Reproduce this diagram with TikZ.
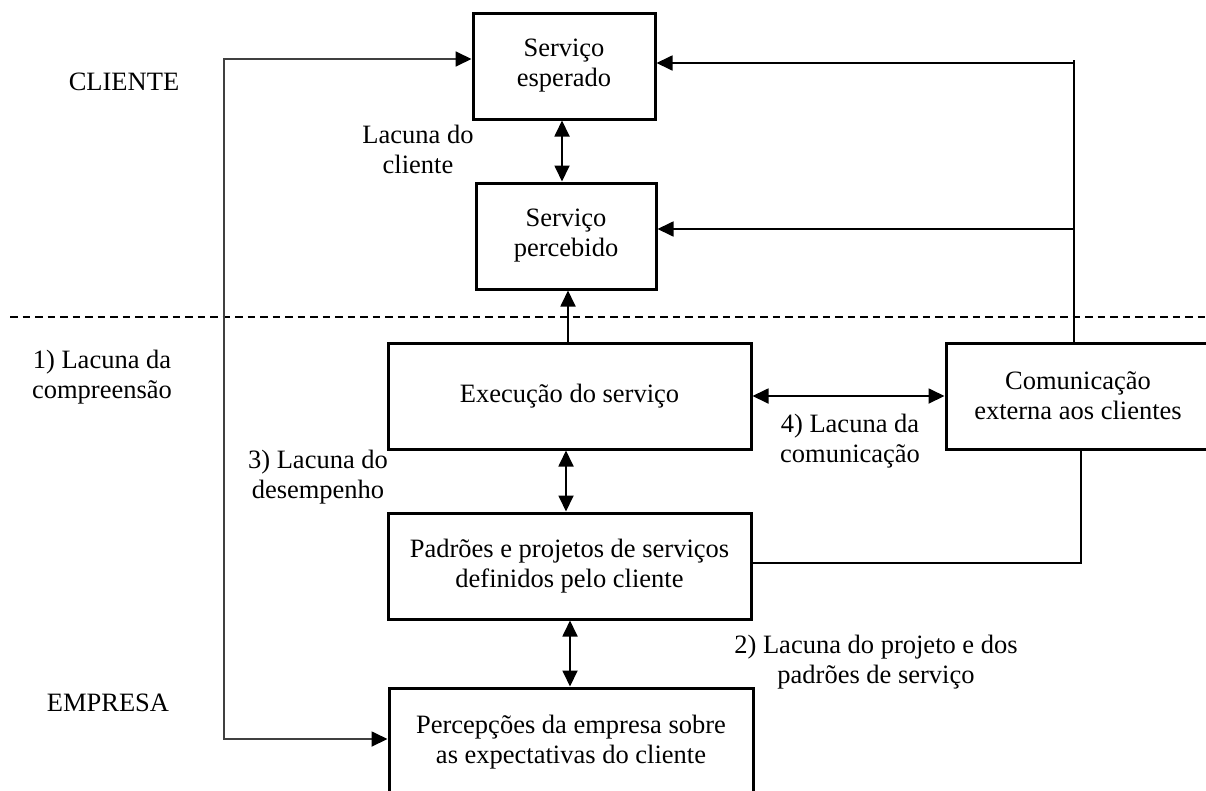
\documentclass[tikz,border=0pt]{standalone}
\usepackage{fontspec}
\setmainfont{Liberation Serif}
\usetikzlibrary{arrows.meta}
\tikzset{
  box/.style={draw, line width=3pt, inner sep=0pt, align=center, font=\fontsize{26.5}{30}\selectfont},
  lbl/.style={inner sep=0pt, align=center, font=\fontsize{26.5}{30}\selectfont},
  conn/.style={line width=1.8pt},
  arr/.style={conn, -{Triangle[length=16pt,width=15pt,black]}},
  darr/.style={conn, {Triangle[length=16pt,width=15pt,black]}-{Triangle[length=16pt,width=15pt,black]}},
}
\begin{document}
\begin{tikzpicture}[x=1pt,y=-1pt]
\clip (0,0) rectangle (1206,790);
\fill[white] (0,0) rectangle (1206,790);
% boxes
\node[box, minimum width=182pt, minimum height=106pt] (esp) at (564,66) {Serviço\\esperado};
\node[box, minimum width=180pt, minimum height=106pt] (perc) at (566,236) {Serviço\\percebido};
\node[box, minimum width=363pt, minimum height=106pt] (exec) at (569.5,396) {Execução do serviço};
\node[box, minimum width=264pt, minimum height=106pt] (com) at (1078,396) {Comunicação\\externa aos clientes};
\node[box, minimum width=363pt, minimum height=106pt] (pad) at (569.5,566) {Padrões e projetos de serviços\\definidos pelo cliente};
\node[box, minimum width=364pt, minimum height=108pt] (pcp) at (571,742) {Percepções da empresa sobre\\as expectativas do cliente};
% labels
\node[lbl] (cli) at (124,82) {CLIENTE};
\node[lbl] (emp) at (108,703) {EMPRESA};
\node[lbl] (g0) at (418,149) {Lacuna do\\cliente};
\node[lbl] (g1) at (102,377) {1) Lacuna da\\compreensão};
\node[lbl] (g3) at (318,477) {3) Lacuna do\\desempenho};
\node[lbl] (g4) at (850,441) {4) Lacuna da\\comunicação};
\node[lbl] (g2) at (876,662) {2) Lacuna do projeto e dos\\padrões de serviço};
% dashed divider
\coordinate (dl) at (10,317);
\coordinate (dr) at (1206,317);
\draw[line width=1.6pt, dash pattern=on 7.5pt off 5pt] (dl) -- (dr);
% left loop
\coordinate (lt) at (224,59);
\coordinate (lb) at (224,739);
\draw[darr, draw=black!75] (lt -| esp.west) -- (lt) -- (lb) -- (lb -| pcp.west);
% right feed
\coordinate (rt) at (1074,60);
\coordinate (r1) at (1074,63);
\coordinate (r2) at (1074,229);
\draw[conn] (rt) -- (rt |- com.north);
\draw[arr] (r1) -- (r1 -| esp.east);
\draw[arr] (r2) -- (r2 -| perc.east);
% execution to perceived
\coordinate (eu) at (568,343);
\draw[arr] (eu) -- (eu |- perc.south);
% gaps
\coordinate (a0) at (562,119);
\draw[darr] (a0 |- esp.south) -- (a0 |- perc.north);
\coordinate (a3) at (566,449);
\draw[darr] (a3 |- exec.south) -- (a3 |- pad.north);
\coordinate (a2) at (570,619);
\draw[darr] (a2 |- pad.south) -- (a2 |- pcp.north);
\draw[darr] (exec.east) -- (com.west);
% communication to standards
\coordinate (cb) at (1081,449);
\coordinate (cc) at (1081,563);
\draw[line width=2.4pt] (cb |- com.south) -- (cc) -- (cc -| pad.east);
\end{tikzpicture}
\end{document}
